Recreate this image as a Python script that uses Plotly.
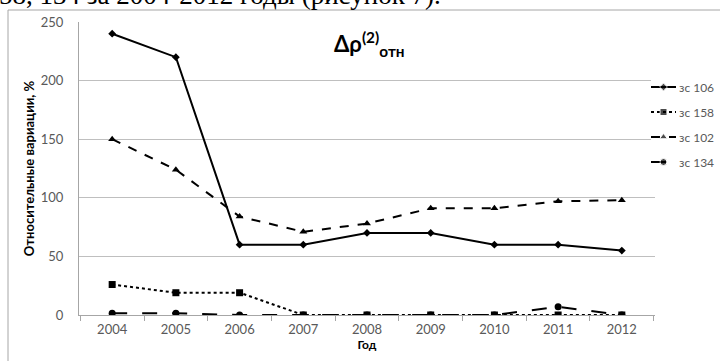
import plotly.graph_objects as go

years = ["2004", "2005", "2006", "2007", "2008", "2009", "2010", "2011", "2012"]
zs106 = [240, 220, 60, 60, 70, 70, 60, 60, 55]
zs158 = [26, 19, 19, 0, 0, 0, 0, 0, 0]
zs102 = [150, 124, 84, 71, 78, 91, 91, 97, 98]
zs134 = [1.5, 1.5, 0, 0, 0, 0, 0, 7, 0]
names = ["зс 106", "зс 158", "зс 102", "зс 134"]

W, H = 720, 361
ml, mr, mt, mb = 79, 0, 22, 46
pw, ph = W - ml - mr, H - mt - mb
plot_right = 655

def px2x(px):
    return (px - ml) / pw

def px2y(py):
    return (H - mb - py) / ph

fig = go.Figure()
series = [
    (zs106, names[0], "solid", "diamond", 6),
    (zs158, names[1], "dot", "square", 7),
    (zs102, names[2], "dash", "triangle-up", 7),
    (zs134, names[3], "longdash", "circle", 7),
]
for i, (vals, nm, dash, sym, ms) in enumerate(series):
    fig.add_trace(go.Scatter(
        x=years, y=vals, name=nm, mode="lines+markers",
        line=dict(color="black", width=2, dash=dash),
        marker=dict(symbol=sym, size=ms, color="black"),
        showlegend=False,
    ))
    # legend key on a hidden helper axis
    fig.add_trace(go.Scatter(
        x=[0, 0.5, 1], y=[i, i, i], mode="lines+markers",
        line=dict(color="black", width=2, dash=dash),
        marker=dict(symbol=sym, size=[0, ms, 0], color="black"),
        xaxis="x2", yaxis="y2", showlegend=False, hoverinfo="skip",
    ))
    fig.add_annotation(
        text=nm, xref="paper", yref="y2", x=px2x(677), y=i,
        xanchor="left", yanchor="middle", showarrow=False,
        font=dict(size=12, color="#595959", family="Lato, Open Sans, sans-serif"),
    )

row0, rowstep = 87, 25
fig.update_layout(
    width=W, height=H,
    margin=dict(l=ml, r=mr, t=mt, b=mb, pad=0, autoexpand=False),
    paper_bgcolor="white", plot_bgcolor="white",
    font=dict(family="Lato, Open Sans, sans-serif", color="#595959", size=12),
    showlegend=False,
    xaxis=dict(type="category", domain=[0, px2x(plot_right)],
               showgrid=False, showline=True, linecolor="#a6a6a6",
               ticks="outside", ticklen=5, tickcolor="#a6a6a6", tickson="boundaries",
               tickfont=dict(size=13, color="#595959"), ticklabelstandoff=2,
               title=dict(text="<b>Год</b>", font=dict(size=12, color="black"), standoff=5)),
    yaxis=dict(range=[0, 250], dtick=50, showgrid=True, gridcolor="#bfbfbf",
               showline=True, linecolor="#a6a6a6", zeroline=False,
               ticks="", tickfont=dict(size=13, color="#595959"), ticklabelstandoff=12,
               title=dict(text="<b>Относительные вариации, %</b>",
                          font=dict(size=13, color="black"), standoff=3)),
    xaxis2=dict(domain=[px2x(651), px2x(676)], range=[0, 1], visible=False,
                anchor="y2", fixedrange=True),
    yaxis2=dict(domain=[px2y(row0 + 3.5 * rowstep), px2y(row0 - 0.5 * rowstep)],
                range=[3.5, -0.5], visible=False, anchor="x2", fixedrange=True),
)

fig.add_annotation(
    text="<b>Δρ<sup>(2)</sup><sub>отн</sub></b>", xref="paper", yref="paper",
    x=px2x(369), y=px2y(44), xanchor="center", yanchor="middle", showarrow=False,
    font=dict(size=22, color="black", family="Lato, Open Sans, sans-serif"),
)

fig.add_annotation(
    text="58, 134 за 2004-2012 годы (рисунок 7).", xref="paper", yref="paper",
    x=px2x(-3), y=px2y(-5), xanchor="left", yanchor="middle", showarrow=False,
    font=dict(size=27, color="black", family="Liberation Serif, serif"),
)

fig.add_shape(type="rect", xref="paper", yref="paper",
              x0=px2x(8), x1=px2x(740), y0=px2y(380), y1=px2y(10),
              line=dict(color="#a6a6a6", width=1), fillcolor="rgba(0,0,0,0)", layer="below")

fig.write_html("out.html", config={"displayModeBar": False},
               post_script="document.body.style.margin='0';document.body.style.overflow='hidden';")
